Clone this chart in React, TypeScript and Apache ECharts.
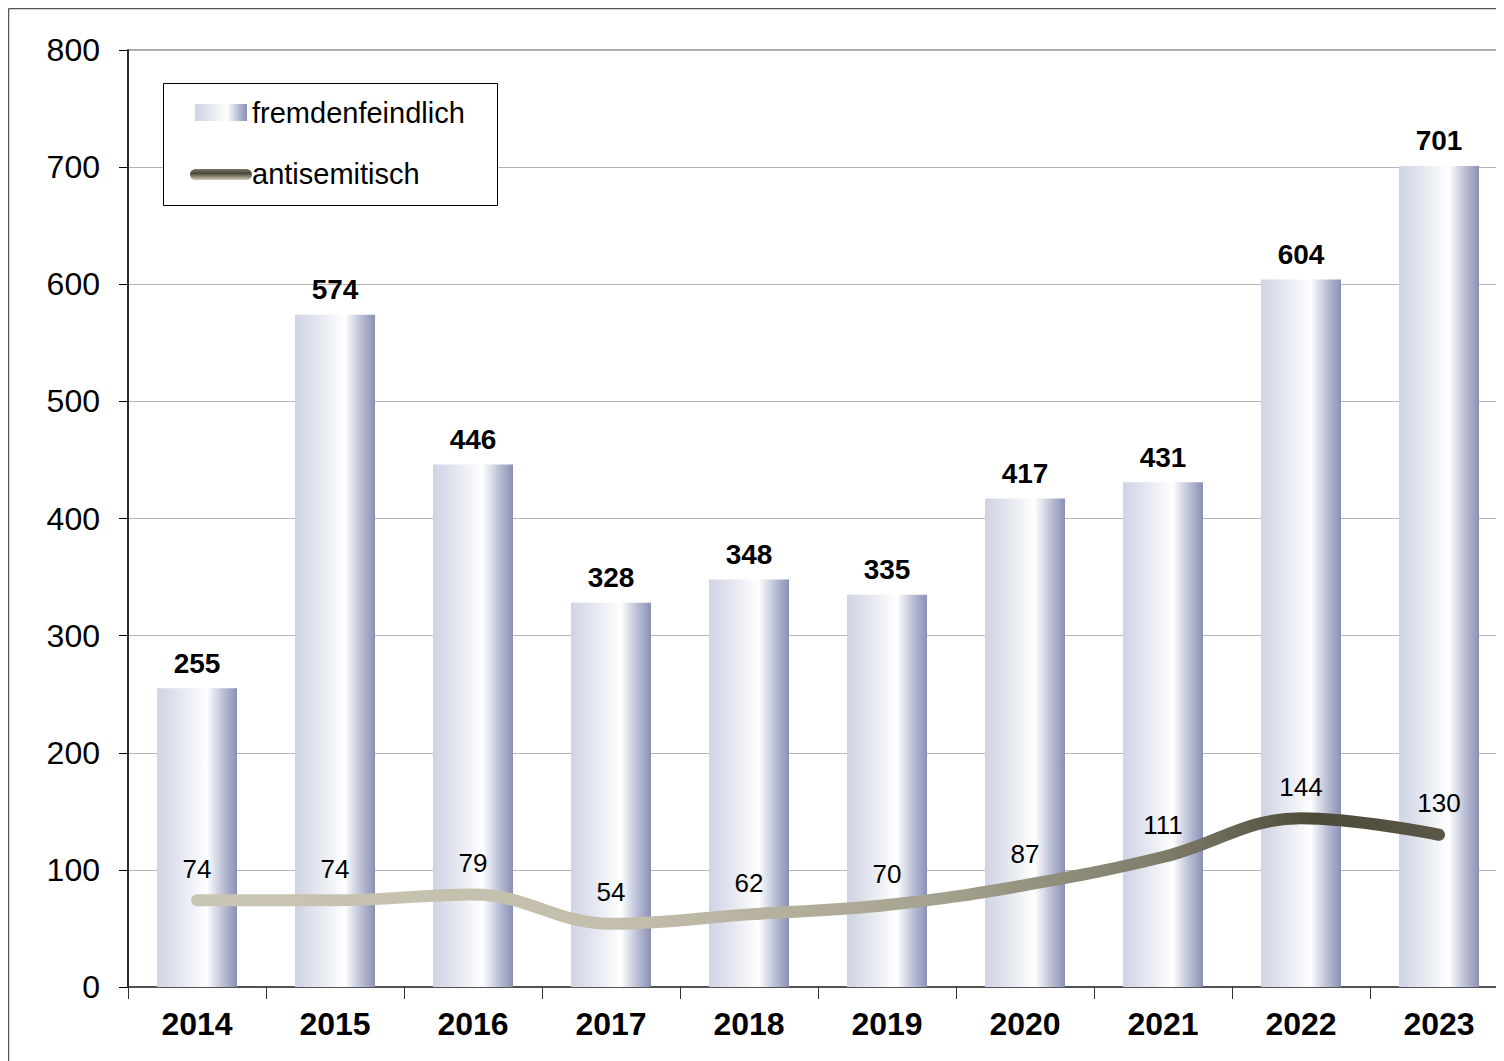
import React, { useEffect, useRef } from "react";
import * as echarts from "echarts";

const years = ["2014", "2015", "2016", "2017", "2018", "2019", "2020", "2021", "2022", "2023"];
const fremdenfeindlich = [255, 574, 446, 328, 348, 335, 417, 431, 604, 701];
const antisemitisch = [74, 74, 79, 54, 62, 70, 87, 111, 144, 130];
const yTicks = { min: 0, max: 800, interval: 100 };

const FONT = "'Liberation Sans', Arial, sans-serif";

const barGradient = () =>
  new echarts.graphic.LinearGradient(0, 0, 1, 0, [
    { offset: 0, color: "#cfd3e4" },
    { offset: 0.35, color: "#e9ebf3" },
    { offset: 0.62, color: "#ffffff" },
    { offset: 0.8, color: "#c3c7db" },
    { offset: 1, color: "#8890b5" },
  ]);

export default function App() {
  const ref = useRef<HTMLDivElement>(null);
  useEffect(() => {
    if (!ref.current) return;
    const chart = echarts.init(ref.current, undefined, { renderer: "svg" });
    chart.setOption({
      animation: false,
      backgroundColor: "#ffffff",
      textStyle: { fontFamily: FONT },
      grid: {
        left: 120,
        top: 42,
        width: 1380,
        height: 937,
        show: true,
        borderColor: "#8a8a8a",
        borderWidth: 1.5,
        backgroundColor: "transparent",
      },
      xAxis: {
        type: "category",
        data: years,
        axisLine: { lineStyle: { color: "#333333", width: 1.5 } },
        axisTick: { show: true, length: 12, lineStyle: { color: "#333333" } },
        axisLabel: { fontSize: 32, fontWeight: "bold", color: "#000", margin: 21, fontFamily: FONT },
      },
      yAxis: {
        type: "value",
        min: yTicks.min,
        max: yTicks.max,
        interval: yTicks.interval,
        axisLine: { show: true, lineStyle: { color: "#000", width: 1.5 } },
        axisTick: { show: true, length: 9, lineStyle: { color: "#000" } },
        axisLabel: { fontSize: 32, color: "#000", margin: 28, fontFamily: FONT },
        splitLine: { lineStyle: { color: "#b4b4b4", width: 1.2 } },
      },
      series: [
        {
          name: "fremdenfeindlich",
          type: "bar",
          data: fremdenfeindlich,
          barWidth: 80,
          itemStyle: { color: barGradient() },
          label: {
            show: true,
            position: "top",
            distance: 11,
            fontSize: 28,
            fontWeight: "bold",
            color: "#000",
            fontFamily: FONT,
          },
          z: 2,
        },
        {
          name: "antisemitisch",
          type: "line",
          data: antisemitisch,
          smooth: 0.4,
          symbol: "circle",
          symbolSize: 1,
          itemStyle: { color: "rgba(0,0,0,0)" },
          lineStyle: {
            width: 12,
            cap: "round",
            join: "round",
            color: new echarts.graphic.LinearGradient(0, 0, 1, 0, [
              { offset: 0, color: "#c9c5b3" },
              { offset: 0.35, color: "#c2beab" },
              { offset: 0.6, color: "#a5a18f" },
              { offset: 0.78, color: "#7e7b69" },
              { offset: 0.9, color: "#4d4a3a" },
              { offset: 1, color: "#5a5747" },
            ]),
          },
          label: {
            show: true,
            position: "top",
            distance: 18,
            fontSize: 26,
            color: "#000",
            fontFamily: FONT,
          },
          z: 3,
        },
      ],
      graphic: [
        { type: "line", shape: { x1: 0.5, y1: 0.5, x2: 1510, y2: 0.5 }, style: { stroke: "#555", lineWidth: 1.5 } },
        { type: "line", shape: { x1: 0.5, y1: 0.5, x2: 0.5, y2: 1053 }, style: { stroke: "#555", lineWidth: 1.5 } },
        {
          type: "rect",
          shape: { x: 155.5, y: 75.5, width: 334, height: 122 },
          style: { fill: "#fff", stroke: "#000", lineWidth: 1 },
          z: 10,
        },
        {
          type: "rect",
          shape: { x: 187, y: 96, width: 52, height: 17 },
          style: { fill: barGradient() },
          z: 11,
        },
        {
          type: "rect",
          shape: { x: 182, y: 161, width: 62, height: 11, r: 5.5 },
          style: {
            fill: new echarts.graphic.LinearGradient(0, 0, 0, 1, [
              { offset: 0, color: "#7a7663" },
              { offset: 0.4, color: "#4a4737" },
              { offset: 1, color: "#d2cdb7" },
            ]),
          },
          z: 11,
        },
        {
          type: "text",
          x: 244,
          y: 105,
          style: { text: "fremdenfeindlich", fontSize: 29, fill: "#000", font: `29px ${FONT}`, verticalAlign: "middle" },
          z: 11,
        },
        {
          type: "text",
          x: 244,
          y: 166,
          style: { text: "antisemitisch", fontSize: 29, fill: "#000", font: `29px ${FONT}`, verticalAlign: "middle" },
          z: 11,
        },
      ],
    });
    return () => chart.dispose();
  }, []);
  return (
    <div style={{ width: 1496, height: 1053, overflow: "hidden" }}>
      <div ref={ref} style={{ width: 1512, height: 1053 }} />
    </div>
  );
}
